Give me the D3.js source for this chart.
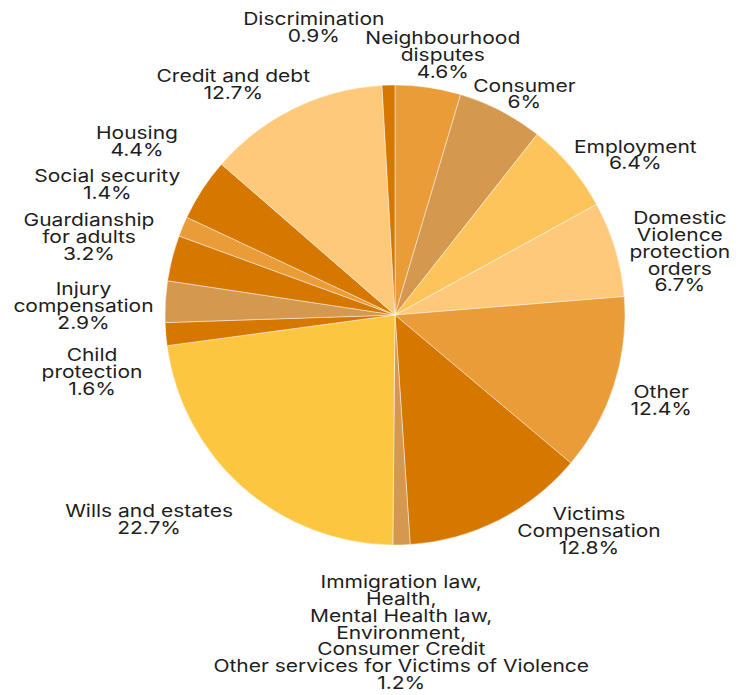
<!DOCTYPE html>
<html>
<head>
<meta charset="utf-8">
<script src="https://cdn.jsdelivr.net/npm/d3@7"></script>
<style>
  html, body { margin: 0; padding: 0; background: #fff; }
  svg text { font-family: "Inter", "Open Sans", sans-serif; font-size: 17.5px; fill: #1e1e1e; }
</style>
</head>
<body>
<svg id="chart" width="750" height="695"></svg>
<script>
// Matter types, clockwise from twelve o'clock
const categories = [
  ["Neighbourhood", "disputes"],
  ["Consumer"],
  ["Employment"],
  ["Domestic", "Violence", "protection", "orders"],
  ["Other"],
  ["Victims", "Compensation"],
  ["Immigration law,", "Health,", "Mental Health law,", "Environment,", "Consumer Credit", "Other services for Victims of Violence"],
  ["Wills and estates"],
  ["Child", "protection"],
  ["Injury", "compensation"],
  ["Guardianship", "for adults"],
  ["Social security"],
  ["Housing"],
  ["Credit and debt"],
  ["Discrimination"]
];

// Share of matters, percent
const shares = [4.6, 6, 6.4, 6.7, 12.4, 12.8, 1.2, 22.7, 1.6, 2.9, 3.2, 1.4, 4.4, 12.7, 0.9];

const sliceColors = [
  "#e99c37", "#d4984f", "#fcc45a", "#fec97a", "#e99c37",
  "#d67700", "#d4984f", "#fcc640", "#d67700", "#d4984f",
  "#d67700", "#e99c37", "#d67700", "#fec97a", "#d67700"
];

// Label placement: shift of each label block from its slice's outer anchor
const labelShift = [
  [6, 16], [-4, 34], [19, 25], [7, -8], [-10, -5],
  [63, -54], [-2, -17], [-54, -15], [-14, 22], [-22, -3],
  [-25, -17], [-20, -21], [-15, -18], [-34, 27], [-73, 0]
];

const cx = 395, cy = 315, radius = 230, anchorRadius = 290, lineStep = 16.9;

const svg = d3.select("#chart");
const g = svg.append("g").attr("transform", `translate(${cx},${cy})`);

const data = shares.map((v, i) => ({ lines: categories[i], value: v, color: sliceColors[i], shift: labelShift[i] }));

const pie = d3.pie().value(d => d.value).sort(null);
const arcs = pie(data);

const arc = d3.arc().innerRadius(0).outerRadius(radius);
const anchorArc = d3.arc().innerRadius(anchorRadius).outerRadius(anchorRadius);

g.selectAll("path.slice")
  .data(arcs)
  .join("path")
  .attr("class", "slice")
  .attr("d", arc)
  .attr("fill", d => d.data.color)
  .attr("stroke", "rgba(255,255,255,0.45)")
  .attr("stroke-width", 1);

const labels = g.selectAll("g.label")
  .data(arcs)
  .join("g")
  .attr("class", "label")
  .attr("transform", d => {
    const [x, y] = anchorArc.centroid(d);
    return `translate(${x + d.data.shift[0]},${y + d.data.shift[1]}) scale(1.2,1)`;
  });

labels.append("text")
  .attr("text-anchor", "middle")
  .selectAll("tspan")
  .data(d => d.data.lines.concat([d.data.value + "%"]))
  .join("tspan")
  .attr("x", 0)
  .attr("y", (t, i) => i * lineStep)
  .text(t => t);
</script>
</body>
</html>
